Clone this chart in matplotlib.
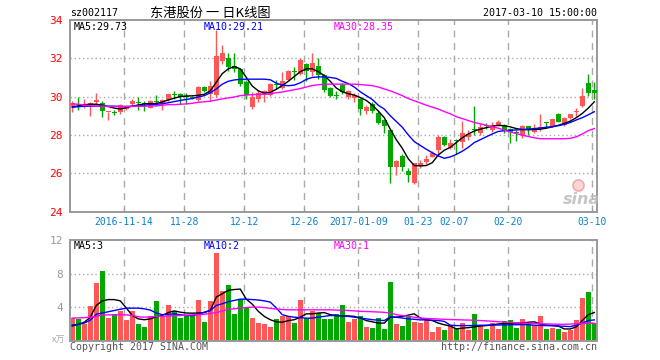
import matplotlib
matplotlib.use('Agg')
import matplotlib.pyplot as plt
import numpy as np

# ---------------- data ----------------
opens = [29.52, 29.62, 29.55, 29.60, 29.70, 29.69, 29.18, 29.17, 29.22, 29.34,
         29.60, 29.68, 29.68, 29.43, 29.74, 29.60, 29.82, 30.12, 30.13, 30.02,
         29.98, 29.80, 30.48, 30.12, 30.10, 31.87, 32.03, 31.62, 31.44, 30.78,
         29.44, 29.86, 30.08, 30.10, 30.62, 30.44, 30.88, 31.32, 31.20, 31.70,
         31.30, 31.60, 31.15, 30.44, 30.08, 30.60, 29.98, 29.92, 29.88, 29.25,
         29.60, 29.13, 28.78, 28.25, 26.30, 26.92, 26.14, 25.51, 26.35, 26.56,
         26.87, 27.22, 27.90, 27.34, 27.74, 27.65, 27.90, 28.32, 28.12, 28.50,
         28.27, 28.54, 28.50, 28.30, 28.14, 27.98, 28.45, 28.16, 28.30, 28.66,
         28.46, 29.07, 28.51, 28.86, 29.22, 29.51, 30.70, 30.35]
highs = [29.75, 30.00, 29.90, 29.72, 30.18, 29.77, 29.22, 29.30, 29.60, 29.56,
         29.85, 29.97, 29.75, 29.82, 30.10, 29.90, 30.15, 30.30, 30.18, 30.20,
         30.05, 30.55, 30.57, 30.83, 33.50, 32.72, 32.28, 32.30, 31.50, 30.85,
         30.25, 30.35, 30.35, 30.70, 30.88, 31.30, 31.38, 31.55, 32.00, 31.75,
         32.28, 32.00, 31.20, 30.50, 30.30, 30.70, 30.35, 30.20, 29.95, 29.55,
         29.70, 29.25, 28.82, 28.30, 26.70, 27.00, 26.25, 26.55, 26.70, 26.95,
         27.15, 27.98, 27.95, 27.80, 27.76, 28.70, 28.25, 29.50, 28.60, 28.60,
         28.68, 28.78, 28.58, 28.35, 28.26, 28.50, 28.47, 28.55, 29.10, 28.66,
         28.82, 29.12, 28.95, 29.08, 29.40, 30.45, 31.17, 30.78]
lows = [29.20, 29.30, 29.40, 29.00, 29.60, 28.96, 28.78, 29.05, 29.10, 29.30,
        29.55, 29.30, 29.25, 29.38, 29.50, 29.30, 29.78, 29.90, 29.60, 29.60,
        29.85, 29.75, 30.22, 29.78, 30.00, 31.70, 31.35, 31.30, 30.57, 29.88,
        29.35, 29.70, 29.70, 30.05, 30.38, 30.40, 30.85, 30.85, 31.15, 30.80,
        31.05, 30.90, 30.25, 30.00, 29.85, 30.15, 29.90, 29.70, 29.03, 29.10,
        29.12, 28.55, 28.12, 25.50, 25.93, 26.10, 25.55, 25.45, 26.25, 26.50,
        26.85, 26.95, 27.40, 27.25, 26.98, 27.30, 27.72, 28.00, 28.00, 28.30,
        28.15, 28.45, 28.12, 27.60, 27.70, 27.85, 28.00, 28.10, 28.22, 28.35,
        28.42, 28.66, 28.45, 28.82, 28.95, 29.47, 30.05, 29.90]
closes = [29.66, 29.58, 29.60, 29.63, 29.82, 29.26, 29.22, 29.14, 29.55, 29.52,
          29.77, 29.65, 29.60, 29.76, 29.71, 29.80, 30.12, 30.10, 29.97, 29.98,
          29.95, 30.48, 30.30, 30.56, 32.12, 32.30, 31.52, 31.42, 30.66, 30.07,
          30.00, 30.18, 30.30, 30.66, 30.60, 30.80, 31.33, 31.28, 31.92, 31.35,
          31.76, 31.15, 30.32, 30.04, 30.05, 30.22, 30.28, 30.08, 29.34, 29.46,
          29.23, 28.61, 28.45, 26.30, 26.64, 26.30, 25.88, 26.55, 26.54, 26.75,
          27.08, 27.90, 27.45, 27.57, 27.66, 28.08, 28.04, 28.28, 28.42, 28.46,
          28.50, 28.68, 28.19, 28.16, 28.10, 28.45, 28.24, 28.30, 28.42, 28.62,
          28.81, 28.69, 28.86, 29.07, 29.26, 30.03, 30.17, 30.17]
volumes = [2.68, 2.60, 2.00, 4.08, 6.88, 8.36, 2.76, 3.16, 3.56, 2.52,
           3.56, 2.00, 1.68, 2.96, 4.76, 2.96, 4.28, 3.48, 2.76, 3.08,
           3.08, 4.88, 2.24, 4.76, 10.40, 5.88, 6.68, 3.24, 5.00, 4.00,
           2.76, 2.12, 2.00, 1.68, 2.60, 2.96, 2.96, 2.12, 4.88, 2.68,
           3.48, 3.28, 2.60, 2.60, 3.20, 4.28, 2.24, 2.60, 2.96, 1.64,
           1.52, 2.72, 1.40, 7.04, 2.00, 1.76, 2.96, 2.24, 2.12, 2.48,
           1.04, 1.64, 1.28, 1.76, 1.52, 2.12, 1.28, 3.20, 1.88, 1.40,
           2.12, 1.40, 2.36, 2.48, 1.52, 2.60, 2.12, 1.76, 2.96, 1.40,
           1.52, 1.40, 1.04, 1.28, 2.48, 5.12, 5.84, 2.12]

ma5 = [29.45, 29.52, 29.58, 29.60, 29.60, 29.55, 29.48, 29.40, 29.35, 29.42,
       29.50, 29.56, 29.62, 29.63, 29.64, 29.72, 29.82, 29.92, 30.00, 30.03,
       30.04, 30.07, 30.12, 30.30, 30.75, 31.20, 31.45, 31.57, 31.45, 31.00,
       30.55, 30.30, 30.18, 30.22, 30.38, 30.58, 30.80, 31.05, 31.30, 31.45,
       31.45, 31.30, 31.10, 30.80, 30.45, 30.25, 30.15, 30.08, 29.95, 29.80,
       29.55, 29.25, 28.90, 28.30, 27.75, 27.30, 26.75, 26.40, 26.38, 26.40,
       26.55, 26.95, 27.20, 27.35, 27.60, 27.85, 28.05, 28.20, 28.30, 28.38,
       28.45, 28.50, 28.48, 28.42, 28.33, 28.28, 28.27, 28.28, 28.30, 28.35,
       28.42, 28.50, 28.60, 28.72, 28.90, 29.12, 29.40, 29.73]
ma10 = [29.45, 29.47, 29.50, 29.50, 29.50, 29.50, 29.50, 29.50, 29.48, 29.48,
        29.50, 29.52, 29.55, 29.58, 29.60, 29.62, 29.68, 29.74, 29.80, 29.85,
        29.90, 29.98, 30.05, 30.20, 30.40, 30.65, 30.80, 30.87, 30.90, 30.91,
        30.91, 30.91, 30.91, 30.88, 30.70, 30.60, 30.57, 30.60, 30.72, 30.90,
        31.00, 31.03, 31.03, 31.00, 30.95, 30.80, 30.68, 30.50, 30.25, 30.05,
        29.85, 29.55, 29.35, 29.00, 28.70, 28.40, 28.00, 27.65, 27.45, 27.25,
        27.07, 26.90, 26.78, 26.85, 26.98, 27.15, 27.35, 27.60, 27.75, 27.90,
        28.05, 28.18, 28.22, 28.24, 28.26, 28.28, 28.30, 28.33, 28.36, 28.40,
        28.43, 28.48, 28.55, 28.65, 28.78, 28.90, 29.05, 29.21]
ma30 = [29.62, 29.60, 29.56, 29.52, 29.50, 29.50, 29.49, 29.48, 29.48, 29.48,
        29.49, 29.50, 29.50, 29.51, 29.52, 29.55, 29.58, 29.58, 29.60, 29.62,
        29.65, 29.70, 29.73, 29.76, 29.82, 29.88, 29.93, 29.98, 30.05, 30.08,
        30.10, 30.12, 30.13, 30.15, 30.20, 30.24, 30.30, 30.36, 30.42, 30.50,
        30.58, 30.62, 30.64, 30.65, 30.65, 30.65, 30.65, 30.65, 30.63, 30.60,
        30.57, 30.50, 30.40, 30.30, 30.18, 30.05, 29.90, 29.78, 29.67, 29.55,
        29.45, 29.35, 29.22, 29.10, 28.95, 28.85, 28.75, 28.65, 28.58, 28.50,
        28.42, 28.35, 28.25, 28.15, 28.07, 27.98, 27.92, 27.85, 27.80, 27.80,
        27.80, 27.80, 27.80, 27.82, 27.90, 28.05, 28.22, 28.33]

vma5 = [1.75, 1.95, 2.20, 2.80, 4.20, 4.75, 4.90, 4.90, 4.75, 3.90,
        3.00, 2.60, 2.50, 2.60, 2.85, 3.00, 3.35, 3.55, 3.40, 3.30,
        3.28, 3.30, 3.35, 3.60, 5.20, 5.60, 6.00, 6.10, 6.15, 4.95,
        4.35, 3.50, 2.90, 2.50, 2.25, 2.20, 2.40, 2.50, 2.80, 3.20,
        3.20, 3.30, 3.35, 3.10, 3.00, 2.95, 2.95, 2.90, 2.70, 2.40,
        2.25, 2.10, 2.10, 2.80, 2.80, 2.90, 3.05, 3.20, 2.70, 2.50,
        2.40, 2.10, 1.90, 1.75, 1.40, 1.50, 1.55, 1.65, 1.75, 1.80,
        1.88, 2.00, 2.05, 2.08, 2.10, 2.10, 2.20, 2.25, 2.00, 1.85,
        1.80, 1.75, 1.40, 1.40, 1.65, 2.40, 3.10, 3.36]
vma10 = [1.88, 1.95, 2.10, 2.45, 3.15, 3.30, 3.45, 3.60, 3.75, 3.88,
         3.88, 3.88, 3.80, 3.65, 3.30, 3.10, 3.15, 3.20, 3.10, 3.00,
         2.98, 3.15, 3.40, 3.60, 4.20, 4.40, 4.65, 4.80, 4.95, 4.95,
         4.90, 4.85, 4.75, 4.60, 3.90, 3.10, 2.90, 2.80, 2.75, 2.68,
         2.70, 2.80, 2.90, 3.00, 3.00, 2.95, 2.90, 2.80, 2.70, 2.60,
         2.50, 2.45, 2.40, 2.85, 2.80, 2.70, 2.60, 2.55, 2.48, 2.48,
         2.45, 2.40, 2.30, 1.85, 1.80, 1.80, 1.80, 1.82, 1.84, 1.85,
         1.86, 1.87, 1.88, 1.90, 1.90, 1.92, 1.90, 1.84, 1.82, 1.80,
         1.80, 1.75, 1.72, 1.68, 1.85, 2.08, 2.40, 2.48]
vma30 = [2.70, 2.72, 2.75, 2.80, 2.90, 3.05, 3.08, 3.08, 3.08, 3.08,
         3.00, 2.85, 2.80, 2.85, 2.88, 2.90, 2.95, 2.98, 3.00, 3.05,
         3.08, 3.10, 3.15, 3.25, 3.35, 3.55, 3.75, 3.80, 3.90, 3.95,
         4.00, 4.00, 3.95, 3.85, 3.78, 3.72, 3.68, 3.68, 3.68, 3.68,
         3.68, 3.68, 3.68, 3.68, 3.65, 3.62, 3.60, 3.55, 3.50, 3.48,
         3.45, 3.42, 3.38, 3.30, 3.10, 3.00, 2.90, 2.80, 2.70, 2.65,
         2.62, 2.58, 2.55, 2.52, 2.50, 2.48, 2.46, 2.44, 2.40, 2.36,
         2.32, 2.26, 2.22, 2.18, 2.14, 2.10, 2.08, 2.05, 2.02, 2.00,
         1.98, 1.96, 1.96, 1.98, 2.02, 2.06, 2.08, 2.08]

date_tick_idx = [9, 19, 29, 39, 48, 58, 64, 73, 87]
date_tick_labels = ['2016-11-14', '11-28', '12-12', '12-26', '2017-01-09',
                    '01-23', '02-07', '02-20', '03-10']
price_ticks = [24, 26, 28, 30, 32, 34]
vol_ticks = [4, 8, 12]

# ---------------- styling ----------------
RED = '#ff5757'
GREEN = '#00a800'
GRID = '#aaaaaa'
FRAME = '#999999'
BLUE_TXT = '#0a82d2'
MONO = 'DejaVu Sans Mono'
W, H = 660, 360

fig = plt.figure(figsize=(W / 100, H / 100), dpi=100)
fig.patch.set_facecolor('white')

ax = fig.add_axes([70 / W, 1 - 211.5 / H, 527 / W, 191.5 / H])
axv = fig.add_axes([70 / W, 1 - 340.7 / H, 527 / W, 100.7 / H])

n = len(closes)
x = np.arange(n)
o = np.array(opens); hi = np.array(highs); lo = np.array(lows); c = np.array(closes)
up = c >= o
cols = np.where(up, RED, GREEN)
xlim = (-0.38, 87.45)
line_x = np.array(date_tick_idx) - 0.35

for a in (ax, axv):
    a.set_xlim(*xlim)
    for s in a.spines.values():
        s.set_color(FRAME)
        s.set_linewidth(1.4)
    for lx in line_x:
        a.axvline(lx, color=GRID, linewidth=1, linestyle=(0, (5, 4)), zorder=0)

# price panel
ax.set_ylim(24, 34)
for yv in price_ticks[1:-1]:
    ax.axhline(yv, color=GRID, linewidth=1, linestyle=(0, (1, 2)), zorder=0)
ax.vlines(x, lo, hi, colors=cols, linewidth=1, zorder=2)
body_b = np.minimum(o, c)
body_h = np.maximum(np.abs(c - o), 0.05)
ax.bar(x, body_h, 0.75, bottom=body_b, color=cols, linewidth=0, zorder=3)
ax.plot(x, ma5, color='black', linewidth=1, zorder=4)
ax.plot(x, ma10, color='#0000ff', linewidth=1, zorder=4)
ax.plot(x, ma30, color='#ff00ff', linewidth=1, zorder=4)
ax.set_yticks(price_ticks)
ax.set_yticklabels([str(t) for t in price_ticks], color='#ff0000',
                   fontfamily=MONO, fontsize=8)
ax.set_xticks(line_x)
ax.set_xticklabels(date_tick_labels, color=BLUE_TXT, fontfamily=MONO, fontsize=7)
ax.tick_params(axis='y', length=0, pad=5)
ax.tick_params(axis='x', length=3, direction='in', color=FRAME, pad=4)

# volume panel
axv.set_ylim(0, 12)
for yv in [4, 8]:
    axv.axhline(yv, color=GRID, linewidth=1, linestyle=(0, (1, 2)), zorder=0)
axv.bar(x, volumes, 0.83, color=cols, linewidth=0, zorder=2)
axv.plot(x, vma5, color='black', linewidth=1, zorder=4)
axv.plot(x, vma10, color='#0000ff', linewidth=1, zorder=4)
axv.plot(x, vma30, color='#ff00ff', linewidth=1, zorder=4)
axv.set_yticks(vol_ticks)
axv.set_yticklabels([str(t) for t in vol_ticks], color=FRAME,
                    fontfamily=MONO, fontsize=8)
axv.set_xticks([])
axv.tick_params(axis='y', length=0, pad=5)

def ftext(px, py, s, **kw):
    fig.text(px / W, 1 - py / H, s, **kw)

# header
ftext(70, 13.5, 'sz002117', fontfamily=MONO, fontsize=7.2, va='center', ha='left', color='black')
ftext(150, 13.5, '东港股份 一 日K线图', family=['Noto Sans CJK SC', 'DejaVu Sans'],
      fontsize=9.5, va='center', ha='left', color='black')
ftext(597, 13.5, '2017-03-10 15:00:00', fontfamily=MONO, fontsize=7.2, va='center', ha='right', color='black')

# MA legends
ftext(74, 27, 'MA5:29.73', fontfamily=MONO, fontsize=7.2, va='center', ha='left', color='black')
ftext(204, 27, 'MA10:29.21', fontfamily=MONO, fontsize=7.2, va='center', ha='left', color='#0000ff')
ftext(334, 27, 'MA30:28.35', fontfamily=MONO, fontsize=7.2, va='center', ha='left', color='#ff00ff')
ftext(74, 246, 'MA5:3', fontfamily=MONO, fontsize=7.2, va='center', ha='left', color='black')
ftext(204, 246, 'MA10:2', fontfamily=MONO, fontsize=7.2, va='center', ha='left', color='#0000ff')
ftext(334, 246, 'MA30:1', fontfamily=MONO, fontsize=7.2, va='center', ha='left', color='#ff00ff')

# footer
ftext(65, 340, 'x万', family=['Noto Sans CJK SC', 'DejaVu Sans'], fontsize=6.5,
      va='center', ha='right', color='#aaaaaa')
ftext(70, 347, 'Copyright 2017 SINA.COM', fontfamily=MONO, fontsize=7.2,
      va='center', ha='left', color='#555555')
ftext(597, 347, 'http://finance.sina.com.cn', fontfamily=MONO, fontsize=7.2,
      va='center', ha='right', color='#555555')

# sina watermark (logo drawn as a marker, text below it)
fig.add_artist(plt.Line2D([578 / W], [1 - 185 / H], marker='o', markersize=8,
                          markerfacecolor='#f8d0d0', markeredgecolor='#f0a0a0',
                          markeredgewidth=1.2, alpha=0.85, transform=fig.transFigure))
ftext(581, 200, 'sina', fontsize=11.5, fontweight='bold', fontstyle='italic',
      va='center', ha='center', color='#bbbbbb', alpha=0.85)

fig.savefig('out.png', dpi=100, facecolor='white')
